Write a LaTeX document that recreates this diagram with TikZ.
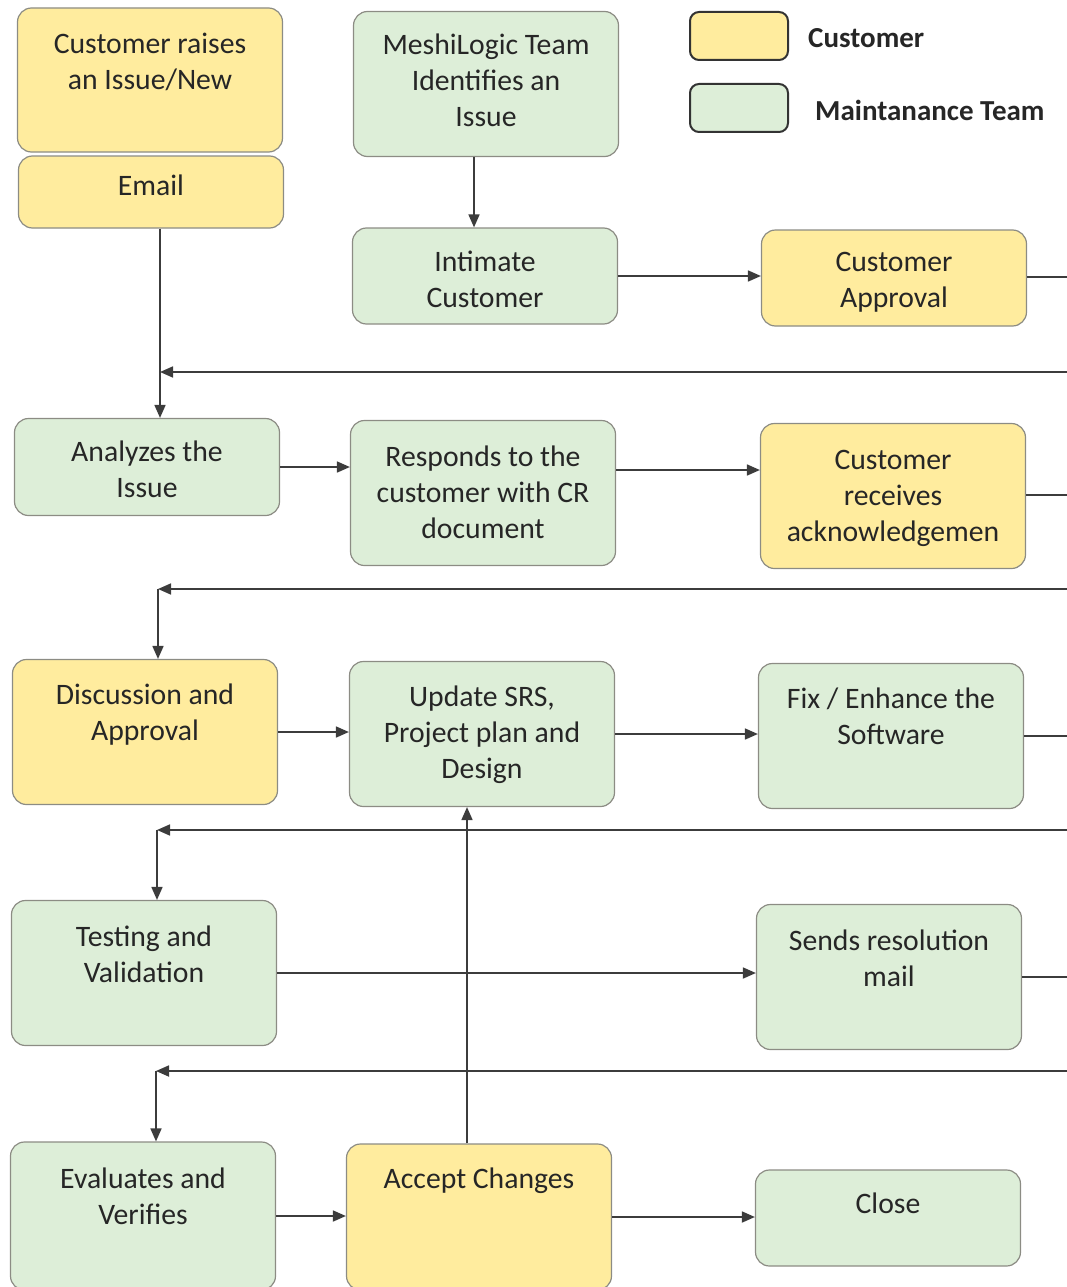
\documentclass[tikz,border=0pt]{standalone}
\usepackage{fontspec}
\setmainfont{Carlito}
\usepackage{tikz}
\usetikzlibrary{arrows.meta}
\usetikzlibrary{calc}
\definecolor{custfill}{HTML}{FFEC9E}
\definecolor{teamfill}{HTML}{DDEED8}
\definecolor{boxline}{HTML}{8C8C84}
\definecolor{flowline}{HTML}{3C3C3C}
\definecolor{inktext}{HTML}{262626}
\tikzset{
  >={Triangle[length=13pt,width=11pt]},
  flowbox/.style={
    draw=boxline, line width=1.2pt, rounded corners=14pt,
    minimum width=265pt, inner sep=0pt
  },
  custbox/.style={flowbox, fill=custfill},
  teambox/.style={flowbox, fill=teamfill},
  tallbox/.style={minimum height=145pt},
  shortbox/.style={minimum height=96pt},
  boxtext/.style={
    anchor=north, align=center, inner sep=0pt, text=inktext,
    font=\fontsize{29.7}{36}\selectfont,
    execute at begin node={\strut}
  },
  flow/.style={->, draw=flowline, line width=1.7pt},
  edgeline/.style={draw=flowline, line width=1.7pt},
  legendbox/.style={
    draw=black!80, line width=2pt, rounded corners=9pt,
    minimum width=98pt, minimum height=48pt
  },
  legendtext/.style={anchor=base west, inner sep=0pt, text=inktext,
    font=\fontsize{29}{34}\selectfont\bfseries}
}

\begin{document}
\begin{tikzpicture}[x=1pt, y=-1pt]
    \useasboundingbox (0,0) rectangle (1067,1287);
    \clip (0,0) rectangle (1067,1287);

    \coordinate (out1)  at (1067, 277);
    \coordinate (back1) at (1067, 372);
    \coordinate (join1) at ( 160, 372);
    \coordinate (out2)  at (1067, 495);
    \coordinate (back2) at (1067, 589);
    \coordinate (join2) at ( 158, 589);
    \coordinate (out3)  at (1067, 736);
    \coordinate (back3) at (1067, 830);
    \coordinate (join3) at ( 157, 830);
    \coordinate (out4)  at (1067, 977);
    \coordinate (back4) at (1067,1071);
    \coordinate (join4) at ( 156,1071);

    \node [legendbox, fill=custfill] (legcust) at (739, 36) {};
    \node [legendbox, fill=teamfill] (legteam) at (739,108) {};
    \node [legendtext] (legcust-t) at (808, 48) {Customer};
    \node [legendtext] (legteam-t) at (815,121) {Maintanance Team};

    \node [custbox, minimum height=144pt] (raise) at (150,  80) {};
    \node [custbox, minimum height=72pt]  (email) at (151, 192) {};
    \node [teambox, tallbox]  (ident)  at (486,  84) {};
    \node [teambox, shortbox] (intim)  at (485, 276) {};
    \node [custbox, shortbox] (appr)   at (894, 278) {};
    \node [teambox, minimum height=97pt] (anal) at (147, 467) {};
    \node [teambox, tallbox]  (resp)   at (483, 493) {};
    \node [custbox, tallbox]  (ack)    at (893, 496) {};
    \node [custbox, tallbox]  (disc)   at (145, 732) {};
    \node [teambox, tallbox]  (upd)    at (482, 734) {};
    \node [teambox, tallbox]  (fix)    at (891, 736) {};
    \node [teambox, tallbox]  (test)   at (144, 973) {};
    \node [teambox, tallbox]  (mail)   at (889, 977) {};
    \node [teambox, minimum height=148pt] (eval)   at (143,1216) {};
    \node [custbox, minimum height=146pt] (accept) at (479,1217) {};
    \node [teambox, shortbox] (close)  at (888,1218) {};

    \node [boxtext] (raise-t)  at ([yshift=-25pt]raise.north)  {Customer raises\\an Issue/New};
    \node [boxtext] (email-t)  at ([yshift=-15pt]email.north)  {Email};
    \node [boxtext] (ident-t)  at ([yshift=-23pt]ident.north)  {MeshiLogic Team\\Identifies an\\Issue};
    \node [boxtext] (intim-t)  at ([yshift=-23pt]intim.north)  {Intimate\\Customer};
    \node [boxtext] (appr-t)   at ([yshift=-23pt]appr.north)   {Customer\\Approval};
    \node [boxtext] (anal-t)   at ([yshift=-23pt]anal.north)   {Analyzes the\\Issue};
    \node [boxtext] (resp-t)   at ([yshift=-26pt]resp.north)   {Responds to the\\customer with CR\\document};
    \node [boxtext] (ack-t)    at ([yshift=-27pt]ack.north)    {Customer\\receives\\acknowledgemen};
    \node [boxtext] (disc-t)   at ([yshift=-25pt]disc.north)   {Discussion and\\Approval};
    \node [boxtext] (upd-t)    at ([yshift=-25pt]upd.north)    {Update SRS,\\Project plan and\\Design};
    \node [boxtext] (fix-t)    at ([yshift=-25pt]fix.north)    {Fix / Enhance the\\Software};
    \node [boxtext] (test-t)   at ([yshift=-26pt]test.north)   {Testing and\\Validation};
    \node [boxtext] (mail-t)   at ([yshift=-26pt]mail.north)   {Sends resolution\\mail};
    \node [boxtext] (eval-t)   at ([yshift=-26pt]eval.north)   {Evaluates and\\Verifies};
    \node [boxtext] (accept-t) at ([yshift=-20pt]accept.north) {Accept Changes};
    \node [boxtext] (close-t)  at ([yshift=-19pt]close.north)  {Close};

    \draw [flow] ([xshift=-12pt]ident.south) -- ([xshift=-12pt]ident.south |- intim.north);
    \draw [flow] (intim.east) -- (intim.east -| appr.west);
    \draw [edgeline] (appr.east |- out1) -- (out1);
    \draw [flow] (back1) -- (join1);
    \draw [flow] (email.south -| join1) -- (anal.north -| join1);

    \draw [flow] (anal.east) -- (anal.east -| resp.west);
    \draw [flow] ([yshift=23pt]resp.east) -- ([yshift=23pt]resp.east -| ack.west);
    \draw [edgeline] (ack.east |- out2) -- (out2);
    \draw [flow] (back2) -- (join2);
    \draw [flow] (join2) -- (disc.north -| join2);

    \draw [flow] (disc.east) -- (disc.east -| upd.west);
    \draw [flow] (upd.east) -- (upd.east -| fix.west);
    \draw [edgeline] (fix.east |- out3) -- (out3);
    \draw [flow] (back3) -- (join3);
    \draw [flow] (join3) -- (test.north -| join3);

    \draw [flow] (test.east) -- (test.east -| mail.west);
    \draw [edgeline] (mail.east |- out4) -- (out4);
    \draw [flow] (back4) -- (join4);
    \draw [flow] (join4) -- (eval.north -| join4);

    \draw [flow] (eval.east) -- (eval.east -| accept.west);
    \draw [flow] (accept.east) -- (accept.east -| close.west);
    \draw [flow] ([xshift=-12pt]accept.north) -- ([xshift=-12pt]accept.north |- upd.south);
\end{tikzpicture}
\end{document}
